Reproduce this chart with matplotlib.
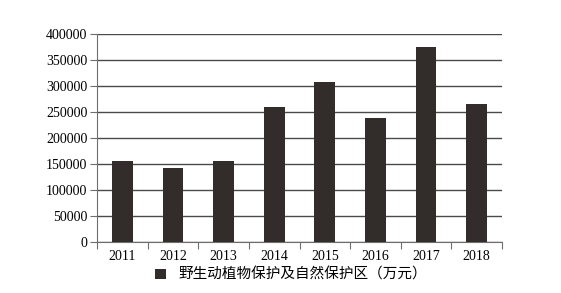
import numpy as np
import matplotlib.pyplot as plt
from matplotlib.patches import Patch

# 数据
years = ['2011', '2012', '2013', '2014', '2015', '2016', '2017', '2018']
values = [156000, 142000, 156000, 259000, 308000, 238500, 375500, 266000]
series_name = '野生动植物保护及自然保护区（万元）'

bar_color = '#322d2b'
axis_color = '#6e6e6e'

fig = plt.figure(figsize=(5.61, 2.93), dpi=100)
ax = fig.add_axes([97 / 561, 51 / 293, 405 / 561, 208 / 293])

x = np.arange(len(years))
ax.bar(x, values, width=0.41, color=bar_color, zorder=3)

ax.set_xlim(-0.5, len(years) - 0.5)
ax.set_ylim(0, 400000)
ax.set_yticks(np.arange(0, 400001, 50000))
ax.set_yticklabels([str(v) for v in range(0, 400001, 50000)],
                   fontfamily='Liberation Serif', fontsize=10)

# x 轴刻度放在类别之间
ax.set_xticks(np.arange(-0.5, len(years), 1.0))
ax.set_xticklabels([])
ax.set_xticks(x, minor=True)
ax.set_xticklabels(years, minor=True, fontfamily='Liberation Serif', fontsize=10)
ax.tick_params(axis='x', which='major', length=5, color=axis_color, direction='out')
ax.tick_params(axis='x', which='minor', length=0, pad=6)
ax.tick_params(axis='y', length=5, color=axis_color, pad=2)

ax.grid(axis='y', color='#4a4a4a', linewidth=1.0, zorder=0)
for side in ['top', 'right']:
    ax.spines[side].set_visible(False)
ax.spines['left'].set_color(axis_color)
ax.spines['bottom'].set_color(axis_color)

handle = Patch(facecolor=bar_color, edgecolor='none')
fig.legend([handle], [series_name], loc='center', bbox_to_anchor=(291 / 561, 1 - 275 / 293),
           frameon=False, handlelength=0.75, handleheight=0.75, handletextpad=0.8,
           prop={'family': ['Noto Sans CJK SC', 'DejaVu Sans'], 'size': 10.5})

fig.savefig('out.png', dpi=100)
